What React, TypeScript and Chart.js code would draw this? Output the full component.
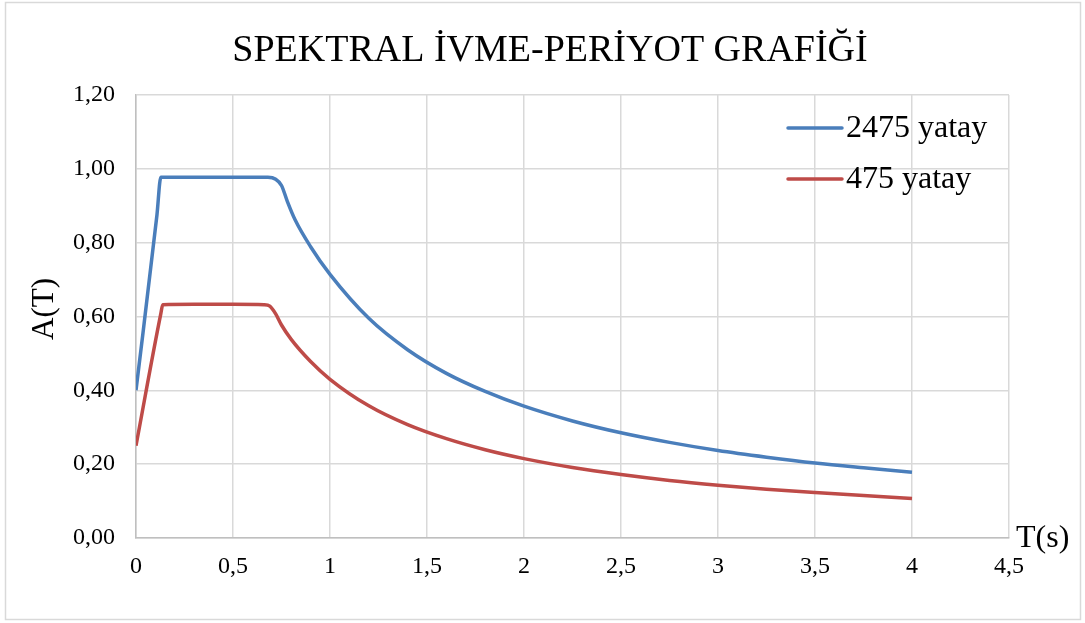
import React, { useEffect, useRef } from "react";
import { Chart, registerables } from "chart.js";

Chart.register(...registerables);

// ---- Texts ----
const TITLE = "SPEKTRAL İVME-PERİYOT GRAFİĞİ";
const X_TITLE = "T(s)";
const Y_TITLE = "A(T)";
const SERIES_NAMES = ["2475 yatay", "475 yatay"];
const SERIES_COLORS = ["#4a7ebb", "#be4b48"];

// ---- Data ----
const T_2475 = [0, 0.108, 0.128, 0.3, 0.5, 0.68, 0.72, 0.75, 0.78, 0.82, 0.9, 1.0, 1.2, 1.4, 1.6, 1.8, 2.0, 2.25, 2.5, 2.75, 3.0, 3.25, 3.5, 3.75, 4.0];
const A_2475 = [0.40, 0.875, 0.977, 0.977, 0.977, 0.977, 0.972, 0.955, 0.912, 0.862, 0.789, 0.714, 0.595, 0.510, 0.446, 0.397, 0.357, 0.317, 0.285, 0.259, 0.237, 0.219, 0.203, 0.190, 0.178];

const T_475 = [0, 0.128, 0.138, 0.3, 0.5, 0.66, 0.69, 0.72, 0.75, 0.8, 0.9, 1.0, 1.2, 1.4, 1.6, 1.8, 2.0, 2.25, 2.5, 2.75, 3.0, 3.25, 3.5, 3.75, 4.0];
const A_475 = [0.25, 0.608, 0.632, 0.633, 0.633, 0.632, 0.628, 0.607, 0.577, 0.538, 0.478, 0.430, 0.358, 0.307, 0.269, 0.239, 0.215, 0.191, 0.172, 0.156, 0.143, 0.132, 0.123, 0.115, 0.107];

// ---- Axis ticks ----
const X_MIN = 0;
const X_MAX = 4.5;
const X_STEP = 0.5;
const Y_MIN = 0;
const Y_MAX = 1.2;
const Y_STEP = 0.2;

const FONT = "'Liberation Serif', 'Times New Roman', serif";
const GRID = "#d9d9d9";
const AXIS = "#bfbfbf";

const toPoints = (xs: number[], ys: number[]) => xs.map((x, i) => ({ x, y: ys[i] }));

const decorPlugin = {
  id: "decor",
  beforeDraw(chart: any) {
    const ctx = chart.ctx;
    ctx.save();
    ctx.fillStyle = "#ffffff";
    ctx.fillRect(0, 0, chart.width, chart.height);
    ctx.strokeStyle = GRID;
    ctx.lineWidth = 1.5;
    ctx.strokeRect(5.5, 2.5, 1075, 617);
    ctx.restore();
  },
  afterDraw(chart: any) {
    const { ctx, chartArea } = chart;
    ctx.save();
    ctx.fillStyle = "#000000";
    // Title
    ctx.font = `38px ${FONT}`;
    ctx.textAlign = "center";
    ctx.textBaseline = "alphabetic";
    ctx.fillText(TITLE, 550, 61);
    // X title
    ctx.font = `32px ${FONT}`;
    ctx.textAlign = "left";
    ctx.fillText(X_TITLE, chartArea.right + 7, 547);
    // Y title
    ctx.save();
    ctx.translate(53, 309);
    ctx.rotate(-Math.PI / 2);
    ctx.textAlign = "center";
    ctx.font = `31px ${FONT}`;
    ctx.fillText(Y_TITLE, 0, 0);
    ctx.restore();
    // Legend
    chart.data.datasets.forEach((ds: any, i: number) => {
      const y = chartArea.top + 33 + i * 51;
      const x0 = chartArea.right - 221;
      ctx.strokeStyle = ds.borderColor;
      ctx.lineWidth = 3.5;
      ctx.lineCap = "round";
      ctx.beginPath();
      ctx.moveTo(x0, y);
      ctx.lineTo(x0 + 54, y);
      ctx.stroke();
      ctx.fillStyle = "#000000";
      ctx.font = `32px ${FONT}`;
      ctx.textAlign = "left";
      ctx.textBaseline = "middle";
      ctx.fillText(ds.label, x0 + 58, y + 1);
    });
    ctx.restore();
  },
};

export default function App() {
  const ref = useRef<HTMLCanvasElement | null>(null);

  useEffect(() => {
    if (!ref.current) return;
    const chart = new Chart(ref.current, {
      type: "line",
      data: {
        datasets: [
          {
            label: SERIES_NAMES[0],
            data: toPoints(T_2475, A_2475),
            borderColor: SERIES_COLORS[0],
            backgroundColor: SERIES_COLORS[0],
            borderWidth: 3.5,
            pointRadius: 0,
            cubicInterpolationMode: "monotone",
            fill: false,
          },
          {
            label: SERIES_NAMES[1],
            data: toPoints(T_475, A_475),
            borderColor: SERIES_COLORS[1],
            backgroundColor: SERIES_COLORS[1],
            borderWidth: 3.5,
            pointRadius: 0,
            cubicInterpolationMode: "monotone",
            fill: false,
          },
        ],
      },
      options: {
        animation: false,
        responsive: false,
        devicePixelRatio: 1,
        layout: { padding: { top: 95, right: 76, bottom: 0, left: 0 } },
        plugins: {
          legend: { display: false },
          title: { display: false },
          tooltip: { enabled: false },
        },
        scales: {
          x: {
            type: "linear",
            min: X_MIN,
            max: X_MAX,
            afterFit: (s: any) => {
              s.height = 85;
            },
            ticks: {
              stepSize: X_STEP,
              color: "#000000",
              font: { family: FONT, size: 24 },
              padding: 14,
              maxRotation: 0,
              callback: (v: any) => String(Math.round(Number(v) * 10) / 10).replace(".", ","),
            },
            grid: { color: GRID, lineWidth: 1.5, drawTicks: false },
            border: { color: AXIS, width: 1.5 },
          },
          y: {
            type: "linear",
            min: Y_MIN,
            max: Y_MAX,
            afterFit: (s: any) => {
              s.width = 136;
            },
            ticks: {
              stepSize: Y_STEP,
              color: "#000000",
              font: { family: FONT, size: 24 },
              padding: 21,
              callback: (v: any) => Number(v).toFixed(2).replace(".", ","),
            },
            grid: { color: GRID, lineWidth: 1.5, drawTicks: false },
            border: { color: AXIS, width: 1.5 },
          },
        },
      },
      plugins: [decorPlugin],
    } as any);
    return () => chart.destroy();
  }, []);

  return (
    <div style={{ position: "fixed", left: 0, top: 0, width: 1085, height: 623, background: "#fff" }}>
      <canvas ref={ref} width={1085} height={623} style={{ display: "block", width: 1085, height: 623 }} />
    </div>
  );
}
